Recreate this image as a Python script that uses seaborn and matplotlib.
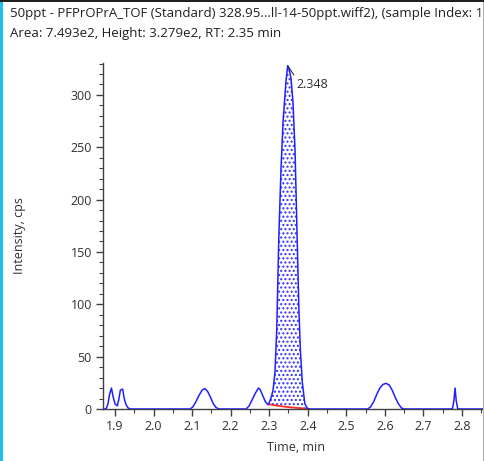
import matplotlib
matplotlib.use("Agg")
import matplotlib.pyplot as plt
import seaborn as sns
import pandas as pd
import numpy as np
from matplotlib.patches import Rectangle
from matplotlib.lines import Line2D
from matplotlib.ticker import MultipleLocator, FormatStrFormatter

# ---- data ----
time_min = [1.869, 1.877, 1.882, 1.886, 1.891, 1.895, 1.900, 1.906, 1.910, 1.914, 1.920,
            1.924, 1.929, 1.934, 1.940,
            2.095, 2.102, 2.110, 2.118, 2.126, 2.133, 2.140, 2.148, 2.155, 2.162, 2.170,
            2.240, 2.248, 2.256, 2.264, 2.272, 2.276, 2.283, 2.290, 2.297,
            2.300, 2.305, 2.310, 2.315, 2.3195, 2.325, 2.3305, 2.336, 2.3435, 2.348,
            2.352, 2.3565, 2.3615, 2.367, 2.372, 2.377, 2.381, 2.386, 2.3925, 2.398, 2.404,
            2.555, 2.563, 2.571, 2.579, 2.587, 2.595, 2.603, 2.611, 2.619, 2.627, 2.635, 2.643, 2.650,
            2.775, 2.779, 2.782, 2.785, 2.789, 2.870]
intensity = [0, 0, 5, 14, 20, 12, 5, 3, 9, 18, 19,
             10, 4, 1, 0,
             0, 2, 7, 13, 18, 19.5, 17, 11, 5, 1.5, 0,
             0, 3, 9, 15, 20, 19, 13, 7, 4,
             6, 11, 18, 35, 75, 165, 228, 275, 313, 327.9,
             324, 316, 294, 247, 171, 95, 55, 25, 5, 1, 0,
             0, 2, 7, 14, 20, 23.5, 24.5, 23, 18, 11, 5, 1, 0,
             0, 8, 20, 8, 0, 0]
# integration baseline (red)
base_time = [2.300, 2.320, 2.350, 2.404]
base_level = [4.5, 3.2, 1.8, 0]

apex_time = 2.348
apex_value = 327.9
title_line1 = "50ppt - PFPrOPrA_TOF (Standard) 328.95...ll-14-50ppt.wiff2), (sample Index: 1"
title_line2 = "Area: 7.493e2, Height: 3.279e2, RT: 2.35 min"
x_label = "Time, min"
y_label = "Intensity, cps"

# ---- figure ----
sns.set_style("ticks")
plt.rcParams['font.family'] = ['Open Sans', 'DejaVu Sans']
W, H = 485, 461
fig = plt.figure(figsize=(W / 100, H / 100), dpi=100)
ax = fig.add_axes([103 / W, 1 - 409 / H, (489 - 103) / W, (409 - 63) / H])

df = pd.DataFrame({"t": time_min, "i": intensity})
sns.lineplot(data=df, x="t", y="i", ax=ax, sort=False, estimator=None,
             color="#2020ff", linewidth=1.1, zorder=3)

# filled peak area between curve and integration baseline
peak = df[(df.t >= base_time[0]) & (df.t <= base_time[-1])]
base_interp = np.interp(peak.t, base_time, base_level)
ax.fill_between(peak.t, base_interp, peak.i, facecolor="white", edgecolor="#3030ff",
                hatch="....", linewidth=0, zorder=2)
ax.plot(base_time, base_level, color="#ff2a2a", linewidth=1.3, zorder=2.5)

ax.set_xlim(1.869, 2.870)
ax.set_ylim(0, 330.5)
ax.xaxis.set_major_locator(MultipleLocator(0.1))
ax.xaxis.set_minor_locator(MultipleLocator(0.05))
ax.yaxis.set_major_locator(MultipleLocator(50))
ax.yaxis.set_minor_locator(MultipleLocator(10))
ax.xaxis.set_major_formatter(FormatStrFormatter('%.1f'))

for s in ["top", "right"]:
    ax.spines[s].set_visible(False)
for s in ["left", "bottom"]:
    ax.spines[s].set_color("#404040")
    ax.spines[s].set_linewidth(1.0)
ax.tick_params(which="major", length=5, width=1, color="#404040", labelsize=9,
               labelcolor="#303030", pad=3)
ax.tick_params(which="minor", length=3, width=0.8, color="#404040")
ax.set_xlabel(x_label, fontsize=9, color="#303030", labelpad=6)
ax.set_ylabel(y_label, fontsize=9, color="#303030")
ax.yaxis.set_label_coords(-(103 - 26) / (489 - 103), 0.5)

ax.annotate("2.348", xy=(apex_time, apex_value), xytext=(6, -9),
            textcoords="offset points",
            fontsize=9, color="#303030", va="top", ha="left",
            arrowprops=dict(arrowstyle="-", color="#303030", lw=0.8,
                            shrinkA=0, shrinkB=0, relpos=(0.0, 1.0)), zorder=5)

fig.text(10 / W, 1 - 14 / H, title_line1, fontsize=9.5, color="#202020", va="center", ha="left")
fig.text(10 / W, 1 - 33 / H, title_line2, fontsize=9.5, color="#202020", va="center", ha="left")

# window chrome
fig.patches.append(Rectangle((0, 0), 3 / W, 1 - 2 / H, transform=fig.transFigure,
                             facecolor="#1cc0f0", edgecolor="none"))
fig.patches.append(Rectangle((0, 1 - 2 / H), 1, 2 / H, transform=fig.transFigure,
                             facecolor="#202020", edgecolor="none"))
fig.lines.append(Line2D([483.5 / W, 483.5 / W], [0, 1 - 2 / H], transform=fig.transFigure,
                        color="#b0b0b0", linewidth=0.8))

fig.savefig("out.png", dpi=100)
